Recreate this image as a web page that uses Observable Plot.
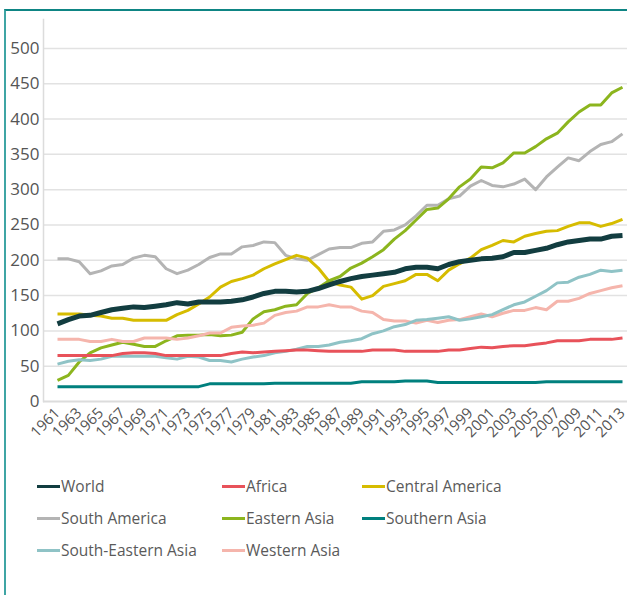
<!DOCTYPE html>
<html>
<head>
<meta charset="utf-8">
<script src="https://cdn.jsdelivr.net/npm/d3@7"></script>
<script src="https://cdn.jsdelivr.net/npm/@observablehq/plot@0.6"></script>
<style>
  html, body { margin: 0; padding: 0; background: #fff; }
  body { width: 627px; height: 595px; position: relative; overflow: hidden; font-family: "Open Sans", "Noto Sans", sans-serif; }
  #frame { position: absolute; left: 4px; top: 9px; width: 700px; height: 700px;
           border-top: 2px solid #0e8584; border-left: 2px solid #3fa5a4; box-sizing: border-box; }
  #chart { position: absolute; left: 0; top: 0; }
  #legend { position: absolute; left: 0; top: 0; width: 627px; }
  .item { position: absolute; display: flex; align-items: center; font-size: 15.5px; color: #5a5a5a; white-space: nowrap; }
  .sw { width: 23px; height: 3px; margin-right: 1px; }
</style>
</head>
<body>
<div id="frame"></div>
<div id="chart"></div>
<div id="legend"></div>
<script>
const years = d3.range(1961, 2014);
const tickYears = d3.range(1961, 2014, 2);
const yTicks = [0, 50, 100, 150, 200, 250, 300, 350, 400, 450, 500];

const seriesNames = ["World", "Africa", "Central America", "South America", "Eastern Asia", "Southern Asia", "South-Eastern Asia", "Western Asia"];
const seriesColors = ["#123d40", "#e8525a", "#d6bc00", "#b4b4b4", "#8cb51e", "#00807e", "#8fc3c6", "#f5b5ac"];
const seriesWidths = [5, 3, 3, 3, 3, 3, 3, 3];

const world = [110,116,121,122,126,130,132,134,133,135,137,140,138,141,141,141,142,144,148,153,156,156,155,156,160,165,170,174,177,179,181,183,188,190,190,188,194,198,200,202,203,205,211,211,214,217,222,226,228,230,230,234,235];
const africa = [65,65,65,65,65,65,68,69,69,68,65,65,65,65,65,65,68,70,69,70,71,72,73,73,72,71,71,71,71,73,73,73,71,71,71,71,73,73,75,77,76,78,79,79,81,83,86,86,86,88,88,88,90];
const centralAmerica = [124,124,124,122,121,118,118,115,115,115,115,123,129,138,148,162,170,174,179,188,195,201,207,203,189,170,165,162,145,150,163,167,171,180,180,171,186,195,203,215,221,228,226,234,238,241,242,248,253,253,248,252,258];
const southAmerica = [202,202,198,181,185,192,194,203,207,205,188,181,186,194,204,209,209,219,221,226,225,207,202,200,208,216,218,218,224,226,241,243,250,263,278,278,287,291,305,313,306,304,308,315,300,318,332,345,341,354,364,368,379];
const easternAsia = [30,37,56,69,76,80,84,81,78,78,86,93,94,94,95,93,94,98,117,127,130,135,137,153,161,171,177,189,196,205,215,230,242,257,272,274,287,304,315,332,331,338,352,352,361,372,380,396,410,420,420,437,445];
const southernAsia = [21,21,21,21,21,21,21,21,21,21,21,21,21,21,25,25,25,25,25,25,26,26,26,26,26,26,26,26,28,28,28,28,29,29,29,27,27,27,27,27,27,27,27,27,27,28,28,28,28,28,28,28,28];
const southEasternAsia = [53,57,59,58,60,64,64,64,64,64,62,60,64,63,58,58,56,60,63,65,69,71,74,78,78,80,84,86,89,96,100,106,109,115,116,118,120,115,117,120,123,130,137,141,149,157,168,169,176,180,186,184,186];
const westernAsia = [88,88,88,85,85,88,85,85,90,90,90,88,90,93,97,97,105,107,108,111,122,126,128,134,134,137,134,134,128,126,116,114,114,111,115,112,115,116,120,124,120,125,129,129,133,130,142,142,146,153,157,161,164];

const seriesValues = [world, africa, centralAmerica, southAmerica, easternAsia, southernAsia, southEasternAsia, westernAsia];

const rows = [];
seriesNames.forEach((name, i) => {
  years.forEach((yr, j) => rows.push({series: name, year: yr, value: seriesValues[i][j]}));
});

const drawOrder = [3, 2, 4, 7, 6, 1, 5, 0];
const lineMarks = drawOrder.map(i => Plot.line(rows.filter(d => d.series === seriesNames[i]), {
  x: "year", y: "value", stroke: seriesColors[i], strokeWidth: seriesWidths[i],
  strokeLinejoin: "round", strokeLinecap: "butt"
}));

const plot = Plot.plot({
  width: 627,
  height: 460,
  marginLeft: 43,
  marginRight: 0,
  marginTop: 19,
  marginBottom: 59,
  style: {fontFamily: "'Open Sans', 'Noto Sans', sans-serif", background: "transparent"},
  x: {domain: [1961, 2013], insetLeft: 14, insetRight: 5, label: null},
  y: {domain: [0, 541], label: null},
  marks: [
    Plot.ruleY(yTicks.slice(1), {stroke: "#e2e2e2", strokeWidth: 1.5}),
    Plot.ruleY([0], {stroke: "#dcdcdc", strokeWidth: 2}),
    Plot.frame({anchor: "left", stroke: "#dcdcdc", strokeWidth: 1.5}),
    ...lineMarks,
    Plot.axisY({ticks: yTicks, tickSize: 0, tickPadding: 4, fontSize: 17, fill: "#555", label: null, tickFormat: d => String(d)}),
    Plot.axisX({ticks: tickYears, tickSize: 0, tickPadding: 9, tickRotate: -45, fontSize: 15, fill: "#555", label: null, tickFormat: d => String(d)})
  ]
});
document.getElementById("chart").appendChild(plot);

const legendCols = [37, 222, 362];
const legendRows = [486, 518, 550];
const legend = document.getElementById("legend");
seriesNames.forEach((name, i) => {
  const item = document.createElement("div");
  item.className = "item";
  item.style.left = legendCols[i % 3] + "px";
  item.style.top = (legendRows[Math.floor(i / 3)] - 11) + "px";
  item.style.height = "22px";
  const sw = document.createElement("span");
  sw.className = "sw";
  sw.style.background = seriesColors[i];
  const tx = document.createElement("span");
  tx.textContent = name;
  item.appendChild(sw);
  item.appendChild(tx);
  legend.appendChild(item);
});
</script>
</body>
</html>
